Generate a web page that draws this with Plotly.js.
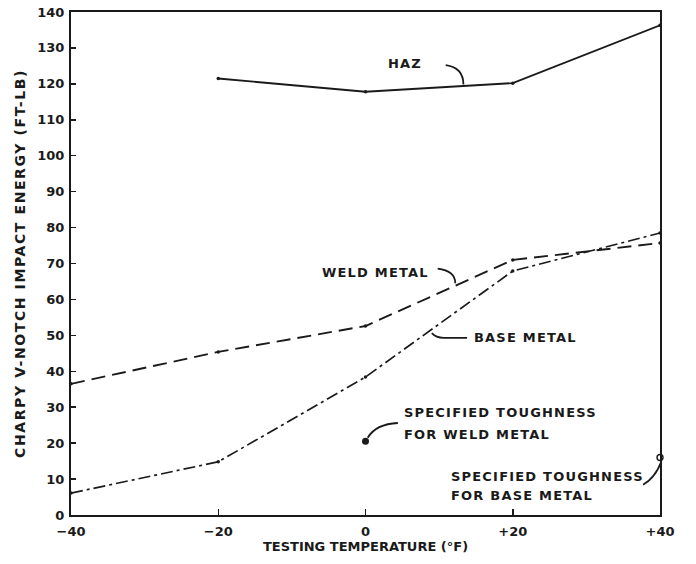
<!DOCTYPE html>
<html>
<head>
<meta charset="utf-8">
<script src="https://cdn.plot.ly/plotly-3.0.1.min.js"></script>
<style>
html,body{margin:0;padding:0;background:#fff;}#chart{width:696px;height:564px;}
#chart .annotation-text{letter-spacing:1.2px;}
#chart .g-ytitle text{letter-spacing:1.6px;}
</style>
</head>
<body>
<div id="chart"></div>
<script>
// Testing temperature (°F)
const temps = [-40, -20, 0, 20, 40];
const hazTemps = [-20, 0, 20, 40];
const hazEnergy = [121.5, 117.8, 120.2, 136.3];
const weldEnergy = [36.5, 45.4, 52.6, 71.0, 75.7];
const baseEnergy = [6.1, 14.8, 38.4, 67.9, 78.5];
const specWeld = {x: [0], y: [20.5]};
const specBase = {x: [40], y: [16]};
const xTickVals = [-40, -20, 0, 20, 40];
const xTickText = ['\u221240', '\u221220', '0', '+20', '+40'];
const yTickVals = [0,10,20,30,40,50,60,70,80,90,100,110,120,130,140];

const ink = '#1a1a1a';
const F = 'DejaVu Sans, Liberation Sans, sans-serif';

const traces = [
  {x: hazTemps, y: hazEnergy, mode: 'lines+markers', line: {color: ink, width: 1.9},
   marker: {size: 3.5, color: ink}, cliponaxis: false, name: 'HAZ'},
  {x: temps, y: weldEnergy, mode: 'lines+markers', line: {color: ink, width: 1.9, dash: '14px,7px'},
   marker: {size: 3.5, color: ink}, cliponaxis: false, name: 'Weld metal'},
  {x: temps, y: baseEnergy, mode: 'lines+markers', line: {color: ink, width: 1.7, dash: '12px,4px,3px,4px'},
   marker: {size: 3.5, color: ink}, cliponaxis: false, name: 'Base metal'},
  {x: specWeld.x, y: specWeld.y, mode: 'markers', marker: {size: 7, color: ink}, cliponaxis: false, name: 'Spec weld'},
  {x: specBase.x, y: specBase.y, mode: 'markers', marker: {size: 6, color: '#fff', line: {color: ink, width: 1.4}}, cliponaxis: false, name: 'Spec base'}
];

const ann = (x, y, text) => ({x, y, xref: 'x', yref: 'y', text, showarrow: false,
  xanchor: 'left', yanchor: 'middle', align: 'left',
  font: {family: F, size: 13, color: ink, weight: 'bold'}});

const leader = (path) => ({type: 'path', xref: 'x', yref: 'y', path, line: {color: ink, width: 1.8}});

const layout = {
  width: 696, height: 564,
  margin: {l: 71, r: 36, t: 12, b: 49},
  paper_bgcolor: '#fff', plot_bgcolor: '#fff',
  showlegend: false,
  xaxis: {range: [-40, 40], tickvals: xTickVals, ticktext: xTickText,
    showline: true, mirror: true, linecolor: ink, linewidth: 2,
    ticks: 'inside', ticklen: 6, tickwidth: 1.5, tickcolor: ink,
    showgrid: false, zeroline: false, ticklabelstandoff: 3,
    tickfont: {family: F, size: 13, color: ink, weight: 'bold'},
    title: {text: 'TESTING TEMPERATURE (\u00B0F)', standoff: 4,
      font: {family: F, size: 13, color: ink, weight: 'bold'}}},
  yaxis: {range: [0, 140], tickvals: yTickVals,
    showline: true, mirror: true, linecolor: ink, linewidth: 2,
    ticks: 'inside', ticklen: 5, tickwidth: 1.5, tickcolor: ink,
    showgrid: false, zeroline: false, ticklabelstandoff: 2,
    tickfont: {family: F, size: 13, color: ink, weight: 'bold'},
    title: {text: 'CHARPY V-NOTCH IMPACT ENERGY (FT-LB)', standoff: 8,
      font: {family: F, size: 14, color: ink, weight: 'bold'}}},
  annotations: [
    ann(2.8, 125.8, 'HAZ'),
    ann(-6.2, 67.6, 'WELD METAL'),
    ann(14.4, 49.3, 'BASE METAL'),
    ann(5.0, 28.4, 'SPECIFIED TOUGHNESS'),
    ann(5.0, 22.3, 'FOR WELD METAL'),
    ann(11.4, 10.6, 'SPECIFIED TOUGHNESS'),
    ann(11.4, 5.3, 'FOR BASE METAL')
  ],
  shapes: [
    leader('M 10.9,125.2 Q 13.3,124.5 13.3,119.8'),
    leader('M 9.8,68.6 Q 12.2,68.0 12.2,64.5'),
    leader('M 13.8,49.3 L 10.6,49.3 Q 9.6,49.3 9.0,50.6'),
    leader('M 4.4,25.6 Q 1.4,25.3 0.3,21.5'),
    leader('M 37.7,8.4 Q 39.4,10.5 40.2,15.0')
  ]
};

Plotly.newPlot('chart', traces, layout, {displayModeBar: false, staticPlot: true});
</script>
</body>
</html>
